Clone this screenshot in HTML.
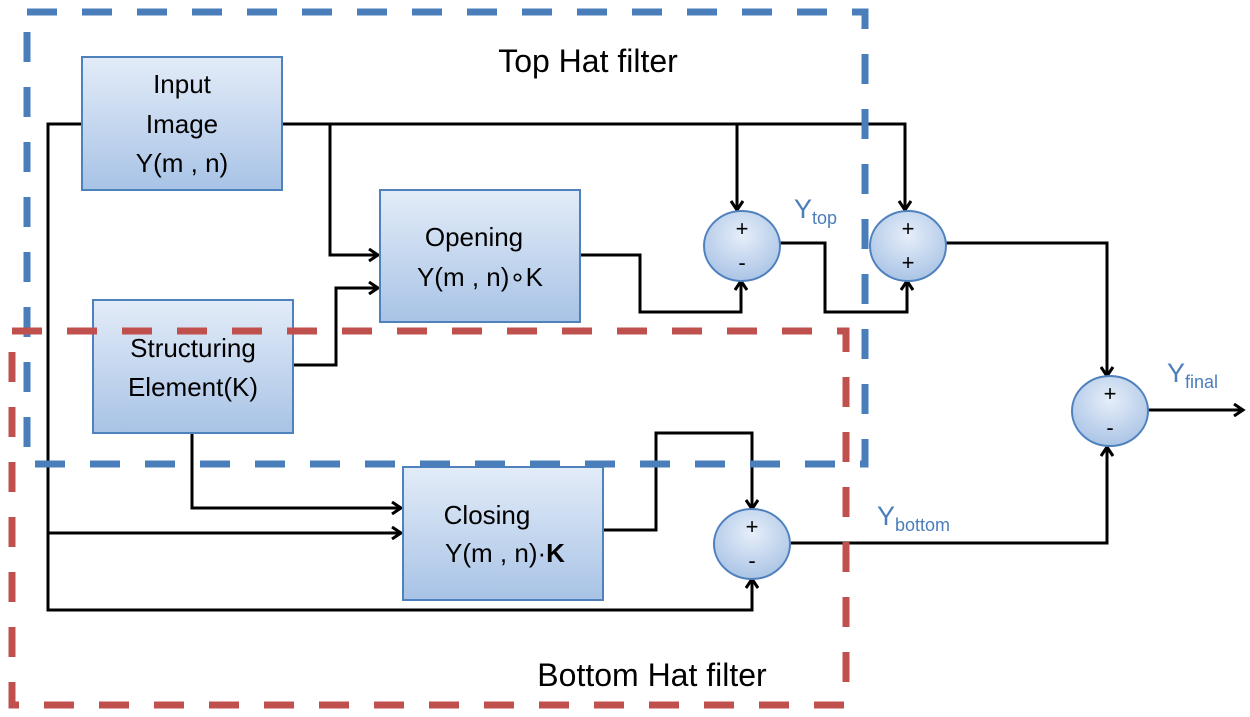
<!DOCTYPE html>
<html><head><meta charset="utf-8"><style>
html,body{margin:0;padding:0;background:#fff;}
svg{display:block;font-family:"Liberation Sans",sans-serif;}
</style></head><body>
<svg width="1250" height="717" viewBox="0 0 1250 717" xmlns="http://www.w3.org/2000/svg">
<defs>
<linearGradient id="g" x1="0" y1="0" x2="0" y2="1"><stop offset="0" stop-color="#e3ecf8"/><stop offset="1" stop-color="#a8c3e6"/></linearGradient>
<radialGradient id="rg" cx="0.5" cy="0.35" r="0.7"><stop offset="0" stop-color="#e6eef9"/><stop offset="1" stop-color="#a6c1e4"/></radialGradient>
<marker id="a" markerWidth="14" markerHeight="14" refX="11" refY="7" orient="auto" markerUnits="userSpaceOnUse"><path d="M2,1 L11,7 L2,13" fill="none" stroke="#000" stroke-width="3"/></marker>
</defs>
<g fill="none" stroke="#000" stroke-width="3">
<path d="M82,124 H48 V610 H752 V579" marker-end="url(#a)"/>
<path d="M282,124 H905 V210" marker-end="url(#a)"/>
<path d="M737,124 V210" marker-end="url(#a)"/>
<path d="M330,124 V255 H378" marker-end="url(#a)"/>
<path d="M293,365 H336 V288 H378" marker-end="url(#a)"/>
<path d="M580,255 H640 V312 H741 V281" marker-end="url(#a)"/>
<path d="M780,243 H825 V312 H907 V281" marker-end="url(#a)"/>
<path d="M946,243 H1107 V376" marker-end="url(#a)"/>
<path d="M1148,410 H1243" marker-end="url(#a)"/>
<path d="M192,433 V508 H401" marker-end="url(#a)"/>
<path d="M48,533 H401" marker-end="url(#a)"/>
<path d="M603,530 H656 V433 H752 V509" marker-end="url(#a)"/>
<path d="M791,543 H1107 V447" marker-end="url(#a)"/>
</g>
<g stroke="#4f81bd" stroke-width="2" fill="url(#g)">
<rect x="82" y="57" width="200" height="133"/>
<rect x="380" y="190" width="200" height="132"/>
<rect x="93" y="300" width="200" height="133"/>
<rect x="403" y="467" width="200" height="133"/>
</g>
<g stroke="#4f81bd" stroke-width="2" fill="url(#rg)">
<ellipse cx="742" cy="246" rx="38" ry="35"/>
<ellipse cx="908" cy="246" rx="38" ry="35"/>
<ellipse cx="1110" cy="411" rx="38" ry="35"/>
<ellipse cx="752" cy="544" rx="38" ry="35"/>
</g>
<g font-size="26" text-anchor="middle" fill="#000">
<text x="182" y="93">Input</text>
<text x="182" y="133">Image</text>
<text x="182" y="172">Y(m , n)</text>
<text x="474" y="246">Opening</text>
<text x="480" y="286">Y(m , n)∘K</text>
<text x="193" y="357">Structuring</text>
<text x="193" y="396">Element(K)</text>
<text x="487" y="524">Closing</text>
<text x="505" y="562">Y(m , n)·<tspan font-weight="bold">K</tspan></text>
</g>
<g font-size="22" text-anchor="middle" fill="#000">
<text x="742" y="236">+</text><text x="742" y="270">-</text>
<text x="908" y="236">+</text><text x="908" y="270">+</text>
<text x="1110" y="401">+</text><text x="1110" y="435">-</text>
<text x="752" y="534">+</text><text x="752" y="568">-</text>
</g>
<g fill="#4a7ebb">
<text x="794" y="218" font-size="27">Y<tspan font-size="18" dy="6">top</tspan></text>
<text x="877" y="525" font-size="27">Y<tspan font-size="18" dy="6">bottom</tspan></text>
<text x="1167" y="382" font-size="27">Y<tspan font-size="18" dy="6">final</tspan></text>
</g>
<text x="588" y="72" font-size="32" text-anchor="middle">Top Hat filter</text>
<text x="652" y="686" font-size="32" text-anchor="middle">Bottom Hat filter</text>
<rect x="27" y="12" width="838" height="452" fill="none" stroke="#4a7ebb" stroke-width="7" stroke-dasharray="30,25"/>
<rect x="12" y="331" width="834" height="374" fill="none" stroke="#c0504d" stroke-width="7" stroke-dasharray="30,25"/>
</svg>
</body></html>
